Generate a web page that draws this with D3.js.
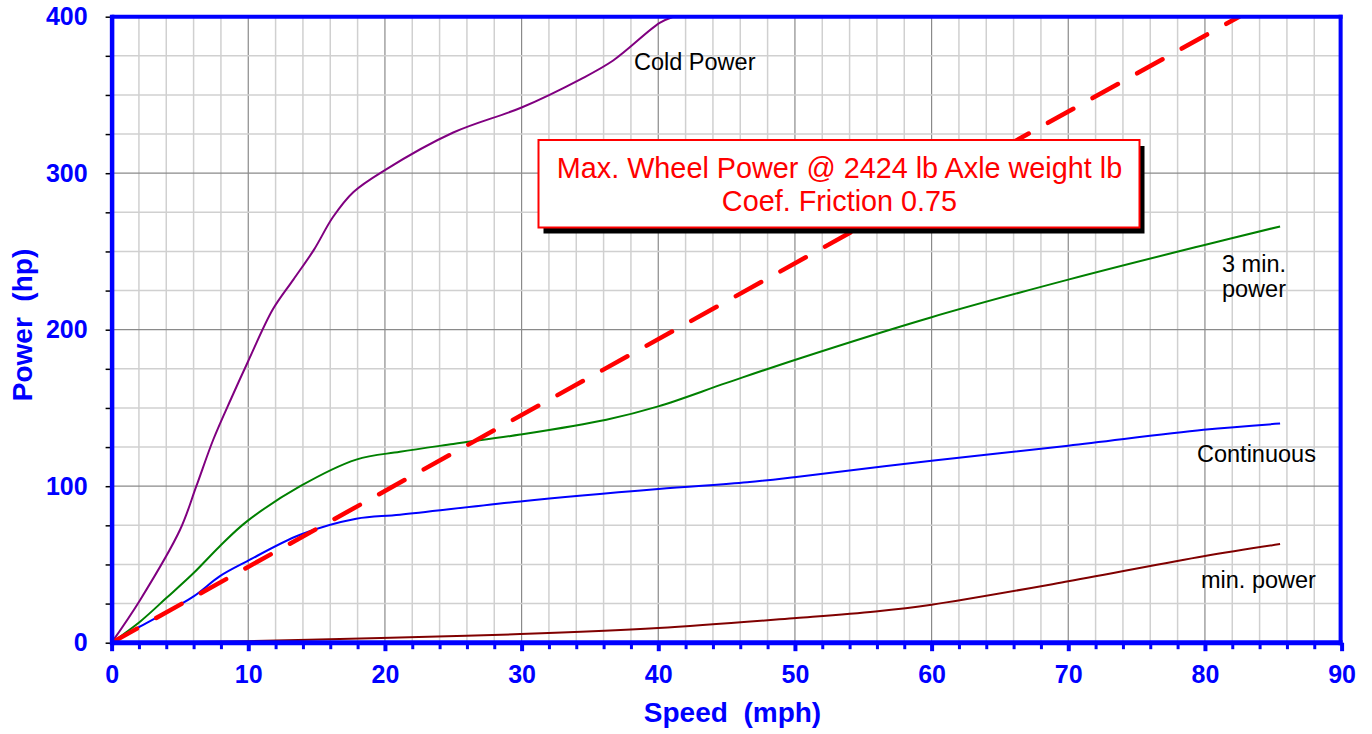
<!DOCTYPE html>
<html>
<head>
<meta charset="utf-8">
<script src="https://cdn.jsdelivr.net/npm/d3@7/dist/d3.min.js"></script>
<style>
  html, body { margin: 0; padding: 0; background: #fff; }
  svg { display: block; }
  text { font-family: Arial, "Liberation Sans", sans-serif; }
</style>
</head>
<body>
<svg id="chart" width="1372" height="734"></svg>
<script>
// ---------- data ----------
const speedCold = [0, 2.1, 5, 6.2, 7.45, 8.8, 10, 11.8, 13.3, 14.8, 16.2, 17.7, 20, 25, 30, 34.3, 36.7, 40.1, 41.1];
const powerCold = [0, 27.5, 72, 100, 130, 157, 180, 213, 232, 251, 272, 288, 302, 326, 342, 360, 372, 396, 400];

const speed3min = [0, 2.1, 4, 6, 7.9, 9.9, 13.8, 17.9, 21.1, 25, 29.9, 36.2, 40, 45, 50.1, 60, 70, 79.9, 85.5];
const power3min = [0, 13.6, 28.5, 44.5, 61.5, 77.5, 100, 117, 122, 127, 133, 142.5, 151, 166, 181, 208, 232, 254, 266];

const speedCont = [0, 2.1, 6, 7.9, 9.9, 13.8, 17.9, 21.1, 29.9, 40, 46.5, 50.1, 60, 70, 79.9, 85.5];
const powerCont = [0, 10.4, 29.6, 42.4, 52, 69, 79.2, 81.8, 90.3, 98.2, 102.5, 105.9, 116.3, 125.9, 136, 140];

const speedMin = [0, 10, 19.7, 29.9, 40, 50.1, 55.9, 60, 70, 79.9, 85.5];
const powerMin = [0, 1, 3, 5.5, 9.4, 15.8, 20, 24.3, 39.2, 55.2, 63];

const speedMax = [0, 82.5];
const powerMax = [0, 400];

const xTickLabels = [0, 10, 20, 30, 40, 50, 60, 70, 80, 90];
const yTickLabels = [0, 100, 200, 300, 400];

const boxLines = ["Max. Wheel Power @ 2424 lb Axle weight lb", "Coef. Friction 0.75"];

// ---------- layout ----------
const svg = d3.select("#chart");
const x = d3.scaleLinear().domain([0, 90]).range([111.6, 1341.6]);
const y = d3.scaleLinear().domain([0, 400]).range([642.7, 16.7]);

const minorX = d3.range(0, 91, 2);
const minorY = d3.range(0, 401, 25);

// ---------- grid ----------
const grid = svg.append("g");
grid.selectAll("line.vx").data(minorX).join("line")
  .attr("x1", d => x(d)).attr("x2", d => x(d))
  .attr("y1", y(400)).attr("y2", y(0))
  .attr("stroke", d => d % 10 === 0 ? "#8a8a8a" : "#d0d0d0")
  .attr("stroke-width", d => d % 10 === 0 ? 1.2 : 1.5);
grid.selectAll("line.hy").data(minorY).join("line")
  .attr("y1", d => y(d)).attr("y2", d => y(d))
  .attr("x1", x(0)).attr("x2", x(90))
  .attr("stroke", d => d % 100 === 0 ? "#8a8a8a" : "#d0d0d0")
  .attr("stroke-width", d => d % 100 === 0 ? 1.2 : 1.5);

// ---------- curves ----------
svg.append("clipPath").attr("id", "plotclip").append("rect")
  .attr("x", x(0)).attr("y", y(400)).attr("width", x(90) - x(0)).attr("height", y(0) - y(400));

const curves = svg.append("g").attr("clip-path", "url(#plotclip)");
const mkLine = () => d3.line().x(d => x(d[0])).y(d => y(d[1])).curve(d3.curveCatmullRom.alpha(0.5));
const zip = (a, b) => a.map((v, i) => [v, b[i]]);

const series = [
  { xs: speedMin, ys: powerMin, color: "#800000" },
  { xs: speedCont, ys: powerCont, color: "#0000ff" },
  { xs: speed3min, ys: power3min, color: "#008000" },
  { xs: speedCold, ys: powerCold, color: "#800080" }
];

series.forEach(s => {
  curves.append("path")
    .datum(zip(s.xs, s.ys))
    .attr("d", mkLine())
    .attr("fill", "none")
    .attr("stroke", s.color)
    .attr("stroke-width", 2);
});

curves.append("path")
  .datum(zip(speedMax, powerMax))
  .attr("d", d3.line().x(d => x(d[0])).y(d => y(d[1])))
  .attr("fill", "none")
  .attr("stroke", "#ff0000")
  .attr("stroke-width", 4.5)
  .attr("stroke-linecap", "round")
  .attr("stroke-dasharray", "29,22");

// ---------- series labels ----------
const labels = svg.append("g").attr("font-size", 23.5).attr("fill", "#000");
labels.append("text").attr("x", 634).attr("y", 70).text("Cold Power");
labels.append("text").attr("x", 1254).attr("y", 272).attr("text-anchor", "middle").text("3 min.");
labels.append("text").attr("x", 1254).attr("y", 297).attr("text-anchor", "middle").text("power");
labels.append("text").attr("x", 1197).attr("y", 462).text("Continuous");
labels.append("text").attr("x", 1201).attr("y", 588).text("min. power");

// ---------- annotation box ----------
const box = svg.append("g");
box.append("rect").attr("x", 543.5).attr("y", 146).attr("width", 601).attr("height", 87.5).attr("fill", "#000");
box.append("rect").attr("x", 538.5).attr("y", 140).attr("width", 601).attr("height", 87.5)
  .attr("fill", "#fff").attr("stroke", "#ff0000").attr("stroke-width", 2);
box.selectAll("text").data(boxLines).join("text")
  .attr("x", 839.5).attr("y", (d, i) => 177.5 + i * 33)
  .attr("text-anchor", "middle").attr("font-size", 28.8).attr("fill", "#ff0000")
  .text(d => d);

// ---------- axes ----------
const yAxis = d3.axisLeft(y).tickValues(minorY).tickSize(6).tickPadding(18)
  .tickFormat(d => yTickLabels.includes(d) ? d : "");
const gy = svg.append("g").attr("transform", `translate(${x(0)},0)`).call(yAxis);
gy.select(".domain").remove();
gy.selectAll(".tick line").attr("stroke", "#000").attr("stroke-width", 1.5);
gy.selectAll(".tick text").attr("fill", "#0000ff").attr("font-size", 25).attr("font-weight", "bold")
  .attr("font-family", "Arial, 'Liberation Sans', sans-serif").attr("x", -24);

const xAxis = d3.axisBottom(x).tickValues(minorX).tickSize(6)
  .tickFormat(d => xTickLabels.includes(d) ? d : "");
const gx = svg.append("g").attr("transform", `translate(0,${y(0)})`).call(xAxis);
gx.select(".domain").remove();
gx.selectAll(".tick line").attr("stroke", "#0000ff")
  .attr("stroke-width", d => d % 10 === 0 ? 4 : 3)
  .attr("y2", d => d % 10 === 0 ? 8.5 : 6.5);
gx.selectAll(".tick text").attr("fill", "#0000ff").attr("font-size", 25).attr("font-weight", "bold")
  .attr("font-family", "Arial, 'Liberation Sans', sans-serif")
  .attr("y", 40.5).attr("dy", 0);

// frame (blue border)
const frame = svg.append("g").attr("stroke", "#0000ff").attr("fill", "none");
frame.append("line").attr("x1", x(0) + 0.5).attr("x2", x(0) + 0.5).attr("y1", y(400) - 2).attr("y2", y(0) + 2.5).attr("stroke-width", 4.5);
frame.append("line").attr("x1", x(0)).attr("x2", x(90) + 1).attr("y1", y(0)).attr("y2", y(0)).attr("stroke-width", 5);
frame.append("line").attr("x1", x(0)).attr("x2", x(90) + 1).attr("y1", y(400)).attr("y2", y(400)).attr("stroke-width", 4);
frame.append("line").attr("x1", x(90) - 1).attr("x2", x(90) - 1).attr("y1", y(400) - 2).attr("y2", y(0) + 2.5).attr("stroke-width", 4);

// axis titles
svg.append("text").attr("x", 732.5).attr("y", 722).attr("text-anchor", "middle")
  .attr("font-size", 28).attr("font-weight", "bold").attr("fill", "#0000ff")
  .style("white-space", "pre").attr("xml:space", "preserve").text("Speed  (mph)");
svg.append("text").attr("transform", "translate(32,325) rotate(-90)").attr("text-anchor", "middle")
  .attr("font-size", 28).attr("font-weight", "bold").attr("fill", "#0000ff")
  .style("white-space", "pre").attr("xml:space", "preserve").text("Power  (hp)");
</script>
</body>
</html>
